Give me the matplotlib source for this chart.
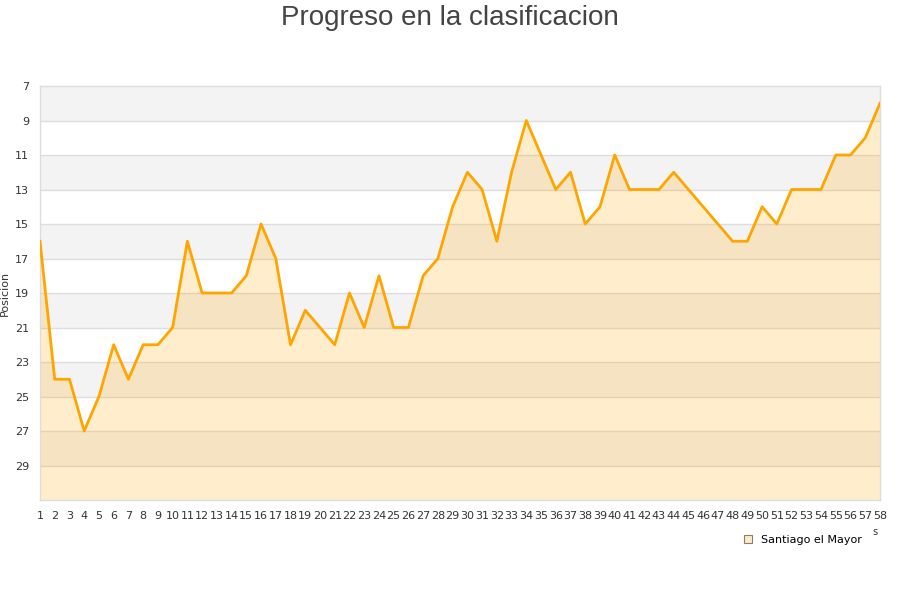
import matplotlib.pyplot as plt
from matplotlib.lines import Line2D

jornadas = list(range(1, 59))
posiciones = [16, 24, 24, 27, 25, 22, 24, 22, 22, 21,
              16, 19, 19, 19, 18, 15, 17, 22, 20, 21,
              22, 19, 21, 18, 21, 21, 18, 17, 14, 12,
              13, 16, 12, 9, 11, 13, 12, 15, 14, 11,
              13, 13, 13, 12, 13, 14, 15, 16, 16, 14,
              15, 13, 13, 13, 11, 11, 10, 8]
y_ticks = [7, 9, 11, 13, 15, 17, 19, 21, 23, 25, 27, 29]
equipo = "Santiago el Mayor"

fig = plt.figure(figsize=(9, 6), dpi=100)
ax = fig.add_axes([40 / 900, 1 - 500 / 600, 840 / 900, 414 / 600])

y_min, y_max = 7, 31
# alternating horizontal bands
for i, lo in enumerate(range(y_min, y_max, 2)):
    ax.axhspan(lo, lo + 2, color="#f3f3f3" if i % 2 == 0 else "white", lw=0, zorder=0)
for t in y_ticks[1:]:
    ax.axhline(t, color="#dddddd", lw=1, zorder=1)

ax.fill_between(jornadas, posiciones, y_max, color="#ffa500", alpha=0.2, lw=0, zorder=2)
ax.plot(jornadas, posiciones, color="#ffa500", lw=2.0, zorder=3)

ax.set_xlim(1, 58)
ax.set_ylim(y_max, y_min)
ax.set_xticks(jornadas)
ax.set_xticklabels([str(j) for j in jornadas])
ax.set_yticks(y_ticks)
ax.tick_params(axis="both", length=0, labelsize=8, colors="#333333")
ax.tick_params(axis="x", pad=8)
ax.tick_params(axis="y", pad=8)
for s in ax.spines.values():
    s.set_color("#dddddd")
    s.set_linewidth(1)

ax.set_ylabel("Posicion", fontsize=8, color="#333333")
ax.yaxis.set_label_coords(-30 / 840, 0.5)

fig.suptitle("Progreso en la clasificacion", x=0.5, y=0.992, fontsize=20,
             color="#444444", family=["Liberation Sans Narrow", "Liberation Sans", "DejaVu Sans"])

handle = Line2D([], [], marker="s", linestyle="none", markersize=6,
                markerfacecolor="#feebc8", markeredgecolor="#8b7b6b", markeredgewidth=0.8)
fig.legend([handle], [equipo], loc="center left", bbox_to_anchor=(737 / 900, 1 - 540 / 600),
           frameon=False, fontsize=8, handletextpad=0.7, borderpad=0, handlelength=1)
fig.text(875 / 900, 1 - 532 / 600, "s", fontsize=7, color="#333333", ha="center", va="center")

fig.savefig("out.png", dpi=100)
